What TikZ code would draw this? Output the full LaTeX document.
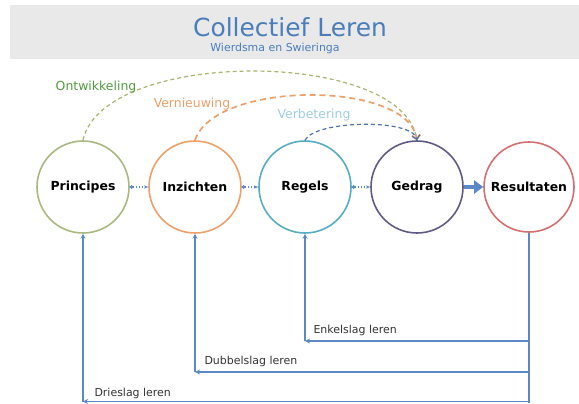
\documentclass[tikz,border=0pt]{standalone}
\usepackage{fontspec}
\setmainfont{DejaVu Sans}
\usetikzlibrary{arrows.meta}
\usetikzlibrary{positioning}

\definecolor{titleblue}{HTML}{4A7EBB}
\definecolor{bandgray}{HTML}{E9E9E9}
\definecolor{princgreen}{HTML}{A9B87F}
\definecolor{inzorange}{HTML}{EE9F6A}
\definecolor{regteal}{HTML}{55ADC4}
\definecolor{gedpurple}{HTML}{5F5B86}
\definecolor{resred}{HTML}{D46E70}
\definecolor{linkblue}{HTML}{5B89C8}
\definecolor{ontgreen}{HTML}{4F9A3E}
\definecolor{ontdash}{HTML}{A7B46E}
\definecolor{verblue}{HTML}{9CCDE0}
\definecolor{verdash}{HTML}{4D72B0}
\definecolor{labelgray}{HTML}{333333}

\tikzset{
  stage/.style={circle,draw,line width=1.6pt,minimum size=92bp,inner sep=0pt,
    font=\fontsize{12.5}{14}\selectfont\bfseries},
  link/.style={linkblue,line width=1.2pt,dotted,
    arrows={Circle[length=3.5pt]-Stealth[length=4.5pt]}},
  loop/.style={line width=1.2pt,dash pattern=on 4pt off 3pt,
    arrows=-{Straight Barb[length=4pt]}},
  feedback/.style={linkblue,line width=1.3pt},
  feedtip/.style={feedback,arrows=-{Stealth[length=5pt,width=5pt]}},
  looplabel/.style={font=\fontsize{12.5}{14}\selectfont},
  slaglabel/.style={labelgray,anchor=south west,font=\fontsize{11}{13}\selectfont}
}

\begin{document}
\begin{tikzpicture}[x=1bp,y=1bp]

    % \draw [help lines] (0,0) grid (579,403);
    \useasboundingbox (0,0) rectangle (579,403);

    \fill[bandgray] (10,344) rectangle (579,398);
    \node (title) [titleblue,font=\fontsize{25}{28}\selectfont] at (290,376) {Collectief Leren};
    \node (sub) [titleblue,font=\fontsize{11}{13}\selectfont] at (275,355) {Wierdsma en Swieringa};

    \path   (83,216)  node (princ) [stage,draw=princgreen] {Principes}
            (195,216) node (inz)   [stage,draw=inzorange]  {Inzichten}
            (305,216) node (reg)   [stage,draw=regteal]    {Regels}
            (417,216) node (ged)   [stage,draw=gedpurple]  {Gedrag}
            (529,216) node (res)   [stage,draw=resred,minimum size=90bp] {Resultaten};

    \draw[link] (princ) -- (inz);
    \draw[link] (inz) -- (reg);
    \draw[link] (reg) -- (ged);
    \draw[linkblue,line width=4.5pt,arrows=-{Triangle[length=9pt,width=13pt]}] (ged) -- (res);

    \draw[loop,ontdash] (princ.north) .. controls +(20,92) and +(-15,92) .. (ged.north);
    \draw[loop,inzorange,line width=1.7pt,dash pattern=on 6pt off 4pt] (inz.north) .. controls +(20,60) and +(-10,60) .. (ged.north);
    \draw[loop,verdash] (reg.north) .. controls +(10,20) and +(-5,22) .. (ged.north);

    \node [looplabel,ontgreen] at (96,316) {Ontwikkeling};
    \node [looplabel,inzorange] at (192,299) {Vernieuwing};
    \node [looplabel,verblue] at (314,288) {Verbetering};

    \coordinate (enk) at (305,62);
    \coordinate (dub) at (195,31);
    \coordinate (drie) at (83,1.5);

    \draw[feedback] (res.south) -- (res.south |- 0,0);
    \draw[feedtip] (res.south |- enk) -- (enk);
    \draw[feedtip] (res.south |- dub) -- (dub);
    \draw[feedtip] (res.south |- drie) -- (drie);
    \draw[feedtip] (enk) -- (reg.south);
    \draw[feedtip] (dub) -- (inz.south);
    \draw[feedtip] (drie) -- (princ.south);

    \node [slaglabel] at ([xshift=5bp,yshift=2bp]enk) {Enkelslag leren};
    \node [slaglabel] at ([xshift=6bp,yshift=2bp]dub) {Dubbelslag leren};
    \node [slaglabel] at ([xshift=8bp,yshift=-1bp]drie) {Drieslag leren};

\end{tikzpicture}
\end{document}
